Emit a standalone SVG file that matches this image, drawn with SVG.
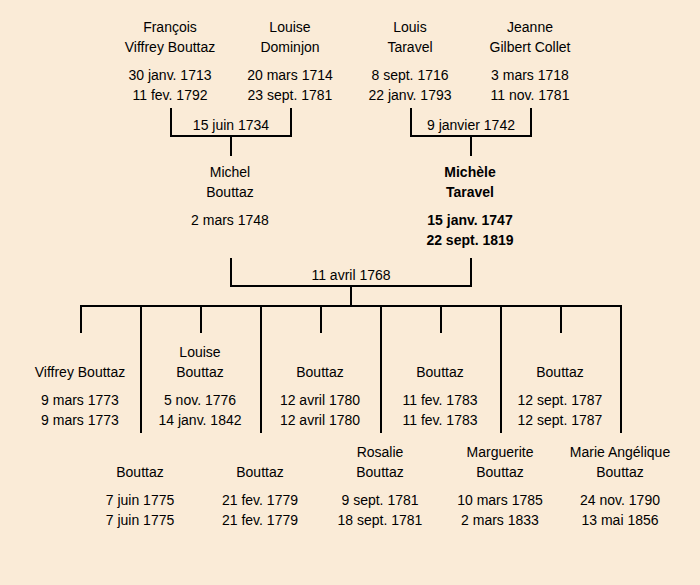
<svg xmlns="http://www.w3.org/2000/svg" width="700" height="585" viewBox="0 0 700 585">
<style>
text{font-family:"Liberation Sans",Arial,sans-serif;font-size:14px;fill:#000;text-anchor:middle}
.b{font-weight:bold}
.ln{stroke:#000;stroke-width:2;fill:none;stroke-linecap:butt}
</style>
<rect width="700" height="585" fill="#FAEBD7"/>
<g id="connectors">
<path class="ln" d="M171,108V136H291V108M231,136V156"/>
<path class="ln" d="M411,108V136H531V108M471,136V156"/>
<path class="ln" d="M231,258V286H471V258M351,286V306"/>
<path class="ln" d="M81,333V306H621V433M141,306V433M201,306V333M261,306V433M321,306V333M381,306V433M441,306V333M501,306V433M561,306V333"/>
</g>
<g id="labels">
<text x="231" y="130">15 juin 1734</text>
<text x="471" y="130">9 janvier 1742</text>
<text x="351" y="280">11 avril 1768</text>
</g>
<g id="francois"><text x="170" y="32">François</text><text x="170" y="52">Viffrey Bouttaz</text><text x="170" y="80">30 janv. 1713</text><text x="170" y="100">11 fev. 1792</text></g>
<g id="louise-dominjon"><text x="290" y="32">Louise</text><text x="290" y="52">Dominjon</text><text x="290" y="80">20 mars 1714</text><text x="290" y="100">23 sept. 1781</text></g>
<g id="louis-taravel"><text x="410" y="32">Louis</text><text x="410" y="52">Taravel</text><text x="410" y="80">8 sept. 1716</text><text x="410" y="100">22 janv. 1793</text></g>
<g id="jeanne"><text x="530" y="32">Jeanne</text><text x="530" y="52">Gilbert Collet</text><text x="530" y="80">3 mars 1718</text><text x="530" y="100">11 nov. 1781</text></g>
<g id="michel"><text x="230" y="177">Michel</text><text x="230" y="197">Bouttaz</text><text x="230" y="225">2 mars 1748</text></g>
<g id="michele"><text class="b" x="470" y="177">Michèle</text><text class="b" x="470" y="197">Taravel</text><text class="b" x="470" y="225">15 janv. 1747</text><text class="b" x="470" y="245">22 sept. 1819</text></g>
<g id="c1"><text x="80" y="377">Viffrey Bouttaz</text><text x="80" y="405">9 mars 1773</text><text x="80" y="425">9 mars 1773</text></g>
<g id="c2"><text x="140" y="477">Bouttaz</text><text x="140" y="505">7 juin 1775</text><text x="140" y="525">7 juin 1775</text></g>
<g id="c3"><text x="200" y="357">Louise</text><text x="200" y="377">Bouttaz</text><text x="200" y="405">5 nov. 1776</text><text x="200" y="425">14 janv. 1842</text></g>
<g id="c4"><text x="260" y="477">Bouttaz</text><text x="260" y="505">21 fev. 1779</text><text x="260" y="525">21 fev. 1779</text></g>
<g id="c5"><text x="320" y="377">Bouttaz</text><text x="320" y="405">12 avril 1780</text><text x="320" y="425">12 avril 1780</text></g>
<g id="c6"><text x="380" y="457">Rosalie</text><text x="380" y="477">Bouttaz</text><text x="380" y="505">9 sept. 1781</text><text x="380" y="525">18 sept. 1781</text></g>
<g id="c7"><text x="440" y="377">Bouttaz</text><text x="440" y="405">11 fev. 1783</text><text x="440" y="425">11 fev. 1783</text></g>
<g id="c8"><text x="500" y="457">Marguerite</text><text x="500" y="477">Bouttaz</text><text x="500" y="505">10 mars 1785</text><text x="500" y="525">2 mars 1833</text></g>
<g id="c9"><text x="560" y="377">Bouttaz</text><text x="560" y="405">12 sept. 1787</text><text x="560" y="425">12 sept. 1787</text></g>
<g id="c10"><text x="620" y="457">Marie Angélique</text><text x="620" y="477">Bouttaz</text><text x="620" y="505">24 nov. 1790</text><text x="620" y="525">13 mai 1856</text></g>
</svg>
